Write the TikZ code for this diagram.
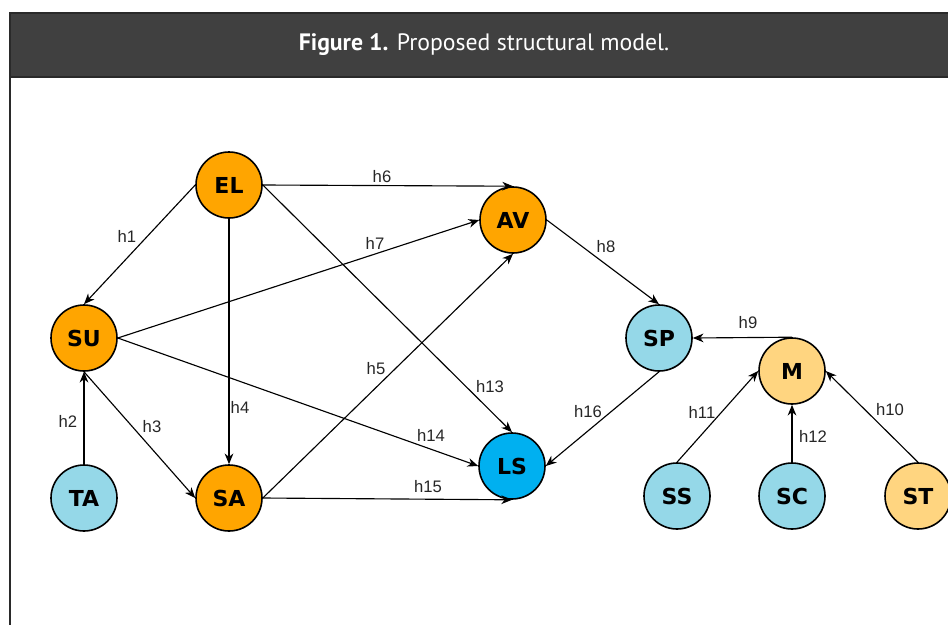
\documentclass[tikz,border=0pt]{standalone}
\usepackage{fontspec}
\setmainfont{Liberation Sans}
\newfontfamily\titlefont{PT Sans}
\newfontfamily\varfont{DejaVu Sans}
\usetikzlibrary{arrows.meta}
\definecolor{hdrGray}{RGB}{64,64,64}
\definecolor{hdrEdge}{RGB}{42,42,42}
\definecolor{varOrange}{RGB}{255,165,0}
\definecolor{varBlue}{RGB}{149,216,232}
\definecolor{varYellow}{RGB}{255,213,128}
\definecolor{varCyan}{RGB}{0,176,240}
\tikzset{
  var/.style={circle,draw=black,line width=1.2pt,minimum size=49.5pt,inner sep=0pt,
    font=\varfont\fontsize{16.5}{18}\selectfont\bfseries},
  hyp/.style={line width=0.85pt,-{Stealth[length=8pt,width=6.5pt,inset=2.5pt]}},
  hlab/.style={font=\fontsize{12.5}{14}\selectfont,text=black!85}
}

\begin{document}
\begin{tikzpicture}[x=0.75pt,y=0.75pt,yscale=-1,xscale=1]
\useasboundingbox (0,0) rectangle (948,625);

%Header bar
\fill [hdrGray] (10,13) rectangle (948,77);
\draw [hdrEdge,line width=1.2pt] (948,13) -- (10,13) -- (10,77) -- (948,77);
\draw [hdrEdge,line width=1.5pt] (10,77) -- (10,625);
% Title
\node (title) at (484,45) [text=white] {\titlefont\fontsize{17.8}{19}\selectfont\textbf{Figure 1.} Proposed structural model.};

%Shape: Circle
\node (EL) at (229,185) [var,fill=varOrange] {EL};
\node (AV) at (513,220) [var,fill=varOrange] {AV};
\node (SU) at (84,338) [var,fill=varOrange] {SU};
\node (SA) at (229,498) [var,fill=varOrange] {SA};
\node (TA) at (84,498) [var,fill=varBlue] {TA};
\node (SP) at (659,338) [var,fill=varBlue] {SP};
\node (LS) at (512,466) [var,fill=varCyan] {LS};
\node (M) at (792,371) [var,fill=varYellow] {M};
\node (SS) at (677,496) [var,fill=varBlue] {SS};
\node (SC) at (792,496) [var,fill=varBlue] {SC};
\node (ST) at (918,496) [var,fill=varYellow] {ST};

%Straight Lines
\draw [hyp] (EL.west) -- (SU.north);
\draw [hyp] (TA.north) -- (SU.south);
\draw [hyp] (SU.south) -- (SA.west);
\draw [hyp] (EL.south) -- (SA.north);
\draw [hyp] (SA.east) -- (AV.south);
\draw [hyp] (EL.east) -- (AV.north);
\draw [hyp] (SU.east) -- (AV.west);
\draw [hyp] (AV.east) -- (SP.north);
\draw [hyp] (M.north) -- (SP.east);
\draw [hyp] (ST.north) -- (M.east);
\draw [hyp] (SS.north) -- (M.west);
\draw [hyp] (SC.north) -- (M.south);
\draw [hyp] (EL.east) -- (LS.north);
\draw [hyp] (SU.east) -- (LS.west);
\draw [hyp] (SA.east) -- (LS.south);
\draw [hyp] (SP.south) -- (LS.east);

% Text Node
\node (h1) at (127,236) [hlab] {h1};
\node (h2) at (68,421) [hlab] {h2};
\node (h3) at (152,427) [hlab] {h3};
\node (h4) at (240,407) [hlab] {h4};
\node (h5) at (376,369) [hlab] {h5};
\node (h6) at (382,177) [hlab] {h6};
\node (h7) at (375,243) [hlab] {h7};
\node (h8) at (606,247) [hlab] {h8};
\node (h9) at (748,323) [hlab] {h9};
\node (h10) at (890,410) [hlab] {h10};
\node (h11) at (702,412) [hlab] {h11};
\node (h12) at (813,436) [hlab] {h12};
\node (h13) at (490,387) [hlab] {h13};
\node (h14) at (431,435) [hlab] {h14};
\node (h15) at (428,487) [hlab] {h15};
\node (h16) at (588,412) [hlab] {h16};

\end{tikzpicture}
\end{document}
